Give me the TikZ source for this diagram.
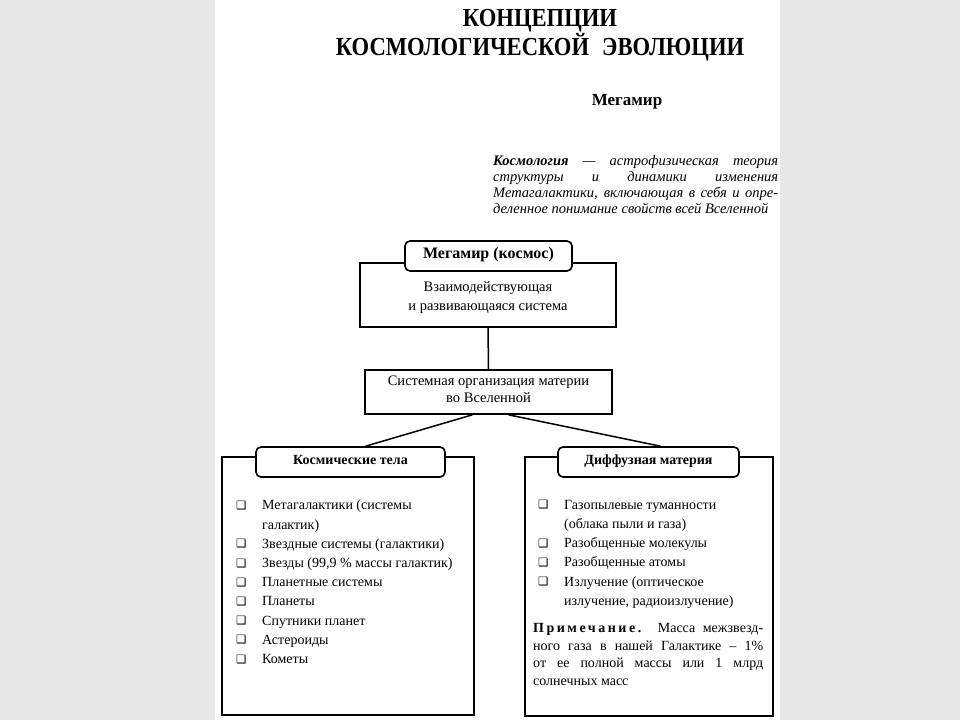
\documentclass[tikz,border=0pt]{standalone}
\usepackage{fontspec}
\setmainfont{Liberation Serif}
\newfontfamily\symfont{DejaVu Sans}
\newfontfamily\spacedfont[LetterSpace=18]{Liberation Serif}
\newfontfamily\titlefont[FakeStretch=0.87]{Liberation Serif}
\usetikzlibrary{calc}
\definecolor{pagegray}{HTML}{E8E8E8}
\newcommand{\itm}{\makebox[26pt][l]{\raisebox{0.5pt}{\symfont\fontsize{11.5}{11.5}\selectfont ❑}}}
\newcommand{\cont}{\hspace*{26pt}}
\tikzset{
  frame/.style={draw,line width=1.6pt,align=center,inner sep=0pt},
  headbox/.style={draw,line width=1.6pt,fill=white,rounded corners=5pt,
    inner sep=0pt,text height=0.7em,text depth=0.22em,
    font=\bfseries\fontsize{14}{16}\selectfont},
  link/.style={line width=1.5pt},
  listtext/.style={align=left,inner sep=0pt,font=\fontsize{14}{19.2}\selectfont},
  blocktext/.style={align=justify,inner sep=0pt}
}
\begin{document}
\begin{tikzpicture}[x=1pt,y=-1pt]
\useasboundingbox (0,0) rectangle (960,720);
\fill[pagegray] (0,0) rectangle (960,720);
\fill[white] (215,0) rectangle (780,720);
% title and definition
\node[font=\titlefont\bfseries\fontsize{26}{25}\selectfont,align=center] (title) at (540,35)
  {КОНЦЕПЦИИ\\КОСМОЛОГИЧЕСКОЙ\hspace{0.5em}ЭВОЛЮЦИИ};
\node[font=\bfseries\fontsize{17}{20}\selectfont] (mega) at (627,102) {Мегамир};
\node[blocktext,text width=285pt,anchor=north west,
  font=\itshape\fontsize{14.5}{16}\selectfont] (def) at (493,155)
  {{\bfseries Космология} — астрофизическая теория\linebreak
   структуры и динамики изменения\linebreak
   Метагалактики, включающая в себя и опре-\linebreak
   деленное понимание свойств всей Вселенной};
% upper blocks
\node[frame,minimum width=256pt,minimum height=64pt] (world) at (488,295) {};
\node[align=center,font=\fontsize{14.5}{19}\selectfont] (worldtext) at ($(world.center)+(0,3)$)
  {Взаимодействующая\\и развивающаяся система};
\node[headbox,minimum width=167pt,minimum height=30pt,
  font=\bfseries\fontsize{16}{18}\selectfont] (megabox) at (488.5,256) {Мегамир (космос)};
\node[frame,minimum width=247pt,minimum height=44pt] (sys) at (488.5,392) {};
\node[align=center,font=\fontsize{14.5}{17}\selectfont] (systext) at ($(sys.center)+(0,-3)$)
  {Системная организация материи\\во Вселенной};
\draw[link] (world.south) -- (sys.north);
% lower blocks
\node[frame,minimum width=252pt,minimum height=258pt] (leftframe) at (348,586) {};
\node[frame,minimum width=248pt,minimum height=259pt] (rightframe) at (649,586.5) {};
\node[headbox,minimum width=189pt,minimum height=30pt] (bodies) at (350.5,462) {Космические тела};
\node[headbox,minimum width=181pt,minimum height=30pt] (diffuse) at (648.5,462) {Диффузная материя};
\draw[link] ($(sys.south)+(-16,0)$) -- ($(bodies.north)+(15,0)$);
\draw[link] ($(sys.south)+(20,0)$) -- ($(diffuse.north)+(12,0)$);
\node[listtext,anchor=north west] (bodylist) at (236,500)
  {\itm Метагалактики (системы\\\cont галактик)\\
   \itm Звездные системы (галактики)\\
   \itm Звезды (99,9 \% массы галактик)\\
   \itm Планетные системы\\
   \itm Планеты\\
   \itm Спутники планет\\
   \itm Астероиды\\
   \itm Кометы};
\node[listtext,anchor=north west] (difflist) at (538,500)
  {\itm Газопылевые туманности\\\cont (облака пыли и газа)\\
   \itm Разобщенные молекулы\\
   \itm Разобщенные атомы\\
   \itm Излучение (оптическое\\\cont излучение, радиоизлучение)};
\node[blocktext,text width=230pt,anchor=north west,
  font=\fontsize{14}{17.7}\selectfont] (note) at (533,623)
  {{\spacedfont\bfseries Примечание.} Масса межзвезд-\linebreak
   ного газа в нашей Галактике – 1\%\linebreak
   от ее полной массы или 1 млрд\linebreak
   солнечных масс};
\end{tikzpicture}
\end{document}
